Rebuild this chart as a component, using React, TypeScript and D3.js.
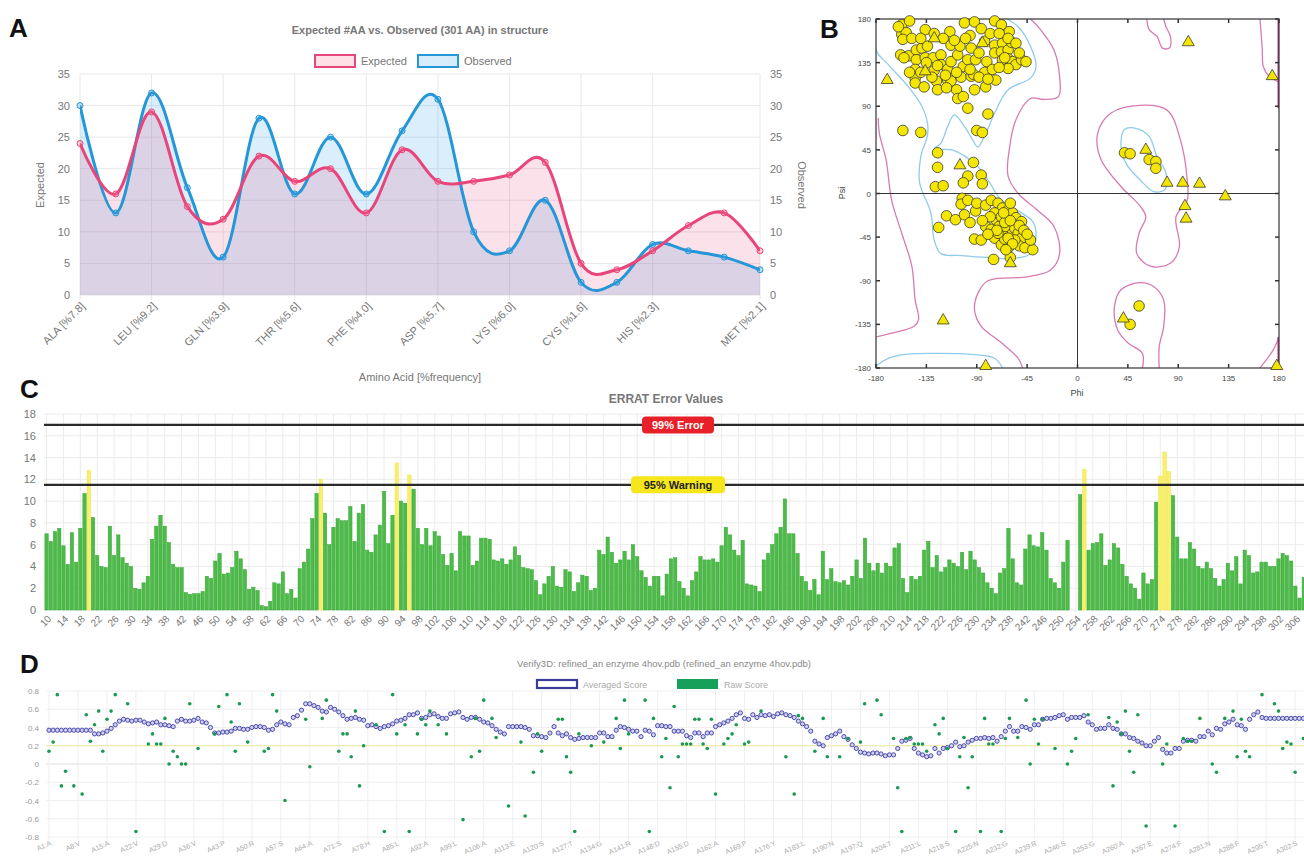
import React from 'react';
import * as d3 from 'd3';

// ---------------- Panel A data ----------------
const aaCategories = ['ALA [%7.8]', 'ARG', 'LEU [%9.2]', 'ASN', 'GLN [%3.9]', 'GLY', 'THR [%5.6]', 'VAL', 'PHE [%4.0]', 'SER', 'ASP [%5.7]', 'GLU', 'LYS [%6.0]', 'ILE', 'CYS [%1.6]', 'TRP', 'HIS [%2.3]', 'PRO', 'TYR', 'MET [%2.1]'];
const aaShownIdx = [0, 2, 4, 6, 8, 10, 12, 14, 16, 19];
const expectedAA = [24, 16, 29, 14, 12, 22, 18, 20, 13, 23, 18, 18, 19, 21, 5, 4, 7, 11, 13, 7];
const observedAA = [30, 13, 32, 17, 6, 28, 16, 25, 16, 26, 31, 10, 7, 15, 2, 2, 8, 7, 6, 4];
const aaTicks = [0, 5, 10, 15, 20, 25, 30, 35];

// ---------------- Panel B data ----------------
const ramaTicks = [-180, -135, -90, -45, 0, 45, 90, 135, 180];
const ramaResidues: [number, number][] = [
  [-157, 174], [-150, 178], [-157, 164], [-153, 166], [-156, 159], [-158, 143], [-151, 142], [-144, 148], [-144, 138], [-145, 128], [-145, 119], [-145, 114], [-137, 110], [-136, 169], [-139, 150], [-134, 152], [-136, 140], [-129, 140], [-128, 127], [-126, 116], [-125, 107], [-122, 143], [-122, 133], [-116, 128], [-116, 117], [-113, 116], [-117, 109], [-114, 167], [-113, 153], [-113, 136], [-107, 143], [-105, 152], [-102, 131], [-104, 120], [-108, 107], [-107, 98], [-102, 100], [-101, 176], [-98, 138], [-95, 121], [-93, 123], [-96, 163], [-92, 177], [-91, 138], [-92, 107], [-86, 170], [-83, 157], [-81, 136], [-83, 125], [-82, 110], [-76, 128], [-73, 117], [-74, 178], [-68, 174], [-74, 153], [-74, 145], [-67, 155], [-68, 146], [-62, 148], [-61, 167], [-59, 156], [-67, 138], [-62, 139], [-58, 136], [-55, 133], [-62, 129], [-50, 138], [-46, 136],
  [-160, 172], [-148, 160], [-140, 160], [-128, 165], [-120, 160], [-110, 158], [-100, 160], [-95, 150], [-88, 145], [-78, 165], [-70, 165], [-62, 160], [-55, 155], [-52, 145], [-140, 125], [-130, 120], [-118, 122], [-108, 125], [-96, 128], [-88, 120], [-80, 118], [-70, 130], [-65, 140], [-135, 135], [-125, 132], [-155, 140], [-150, 125],
  [-98, 88], [-80, 82], [-156, 65], [-140, 63], [-90, 65], [-85, 63], [-125, 42], [-125, 27], [-93, 32], [-98, 18], [-102, 11], [-86, 19], [-85, 10], [-127, 7], [-120, 8],
  [-103, -5], [-104, -11], [-117, -23], [-109, -27], [-101, -22], [-96, -30], [-124, -35], [-98, -7], [-91, -18], [-90, -10], [-82, -12], [-77, -7], [-71, -10], [-67, -15], [-62, -17], [-58, -20], [-55, -25], [-50, -29], [-82, -34], [-77, -37], [-73, -27], [-70, -34], [-66, -41], [-64, -34], [-58, -41], [-56, -36], [-53, -41], [-50, -46], [-74, -20], [-68, -24], [-74, -46], [-68, -53], [-61, -55], [-52, -54], [-47, -56], [-40, -58], [-42, -48], [-56, -48], [-65, -47], [-92, -47], [-86, -48], [-75, -68], [-60, -66], [-71, -41], [-78, -24],
  [-65, -30], [-60, -28], [-72, -38], [-62, -46], [-52, -33], [-48, -38], [-45, -42], [-58, -52], [-64, -58], [-80, -42], [-85, -28], [-66, -20], [-60, -10],
  [42, 42], [47, 41], [64, 35], [70, 33], [70, 26],
  [55, -116], [47, -135],
];
const ramaGlycine: [number, number][] = [
  [-170, 117], [-128, 160], [-85, 155], [-105, 29], [-136, 126], [-120, -131], [-60, -72], [-82, -178], [61, 45], [80, 11], [94, 11], [109, 10], [132, -3], [96, -13], [97, -26], [41, -129], [99, 156], [174, 121], [178, -178],
];
const pinkMain: [number, number][] = [[-42, 180], [-33, 169], [-21, 148], [-16, 121], [-17, 100], [-30, 97], [-42, 98], [-55, 76], [-61, 45], [-62, 18], [-53, 0], [-36, -17], [-21, -34], [-16, -62], [-24, -79], [-45, -86], [-80, -90], [-89, -103], [-92, -120], [-86, -137], [-68, -154], [-53, -170], [-49, -180]];
const pinkLeft: [number, number][] = [[-178, 78], [-177, 62], [-171, 35], [-166, -7], [-157, -41], [-148, -75], [-145, -110], [-142, -130], [-146, -137], [-166, -144], [-180, -148]];
const pinkTopLoop: [number, number][] = [[62, 180], [64, 169], [71, 162], [76, 150], [82, 150], [83, 162], [79, 172], [77, 180]];
const pinkBottomLoop: [number, number][] = [[58, -180], [58, -165], [45, -154], [36, -141], [33, -117], [39, -99], [56, -92], [68, -96], [77, -110], [77, -137], [73, -158], [73, -180]];
const pinkRightTop: [number, number][] = [[163, 180], [165, 150], [166, 131], [171, 121], [180, 115]];
const pinkRightBottom: [number, number][] = [[163, -180], [175, -161], [180, -148]];
const pinkAlphaL: [number, number][] = [[56, 91], [80, 86], [92, 55], [98, 14], [98, -7], [88, -24], [91, -55], [83, -72], [65, -75], [53, -62], [55, -41], [61, -24], [56, -13], [39, 7], [21, 35], [18, 62], [30, 83]];
const magentaEdges: [number, number][][] = [[[180, 180], [180, 88]], [[180, -148], [180, -180]]];
const blueMain: [number, number][] = [[-63, 180], [-53, 172], [-42, 152], [-37, 131], [-42, 119], [-62, 107], [-74, 83], [-82, 62], [-89, 48], [-95, 58], [-101, 69], [-110, 81], [-116, 69], [-122, 52], [-128, 46], [-112, 45], [-100, 38], [-89, 28], [-80, 14], [-68, -7], [-50, -20], [-40, -29], [-37, -41], [-42, -62], [-57, -67], [-80, -66], [-104, -64], [-122, -62], [-128, -48], [-131, -20], [-141, 11], [-140, 38], [-134, 60], [-134, 73], [-139, 90], [-151, 110], [-169, 133], [-180, 148], [-180, 180]];
const blueBottom: [number, number][] = [[-180, -178], [-169, -170], [-154, -166], [-125, -165], [-95, -166], [-74, -170], [-67, -180]];
const blueAlphaL: [number, number][] = [[42, 66], [53, 67], [64, 59], [71, 38], [79, 21], [78, 4], [68, 2], [56, 14], [45, 28], [39, 45]];

// ---------------- Panel C data ----------------
const erratFirstResidue = 10;
const erratValues = [
  7.0, 6.3, 7.2, 7.5, 5.9, 4.2, 7.1, 4.4, 7.5, 10.7,
  12.8, 8.5, 5.0, 4.0, 3.9, 7.7, 5.0, 6.9, 4.8, 4.3,
  4.0, 2.0, 1.9, 2.5, 3.1, 6.5, 7.7, 8.7, 7.7, 6.2,
  4.2, 3.9, 3.9, 1.6, 1.45, 1.5, 1.5, 1.7, 3.1, 2.9,
  4.5, 5.2, 3.3, 3.4, 3.9, 5.4, 4.7, 3.7, 1.9, 2.1,
  1.8, 0.4, 0.3, 0.8, 2.5, 2.4, 3.5, 1.5, 1.9, 1.1,
  3.8, 4.4, 5.6, 8.4, 10.7, 12.0, 8.9, 6.0, 7.6, 8.4,
  8.2, 8.2, 9.5, 6.3, 8.9, 9.7, 5.5, 5.3, 6.9, 7.8,
  10.9, 6.1, 8.7, 13.5, 10.0, 9.8, 12.4, 11.1, 7.5, 6.0,
  7.5, 5.9, 7.2, 6.8, 5.1, 4.1, 5.2, 3.6, 7.2, 6.8,
  6.8, 4.1, 4.5, 6.6, 6.6, 6.5, 4.6, 4.5, 4.7, 4.2,
  4.6, 5.8, 5.0, 3.9, 3.8, 3.7, 2.7, 1.4, 2.4, 3.1,
  4.0, 2.2, 2.1, 3.7, 3.5, 1.7, 2.5, 3.2, 3.1, 1.8,
  2.0, 5.5, 5.1, 6.7, 5.3, 4.3, 4.6, 5.4, 4.6, 6.0,
  4.9, 3.6, 3.0, 2.2, 3.1, 3.1, 1.3, 3.3, 4.7, 4.8,
  2.6, 2.0, 1.3, 2.7, 3.5, 4.9, 4.6, 4.6, 4.7, 4.4,
  5.9, 7.6, 6.9, 5.5, 5.0, 6.4, 2.4, 2.3, 2.2, 1.7,
  4.6, 5.2, 6.0, 7.0, 7.6, 10.2, 7.0, 7.0, 5.2, 3.1,
  2.6, 1.8, 2.8, 1.4, 5.4, 2.8, 3.8, 2.6, 2.5, 2.7,
  2.3, 3.1, 4.6, 2.9, 6.6, 4.3, 3.6, 4.3, 3.4, 4.3,
  4.0, 5.7, 6.1, 2.9, 1.6, 3.1, 2.8, 3.1, 5.5, 6.3,
  3.9, 5.0, 3.5, 3.9, 4.6, 4.3, 4.0, 5.3, 3.7, 5.4,
  4.6, 3.9, 3.4, 2.5, 2.0, 1.5, 3.4, 3.8, 7.5, 4.7,
  2.5, 2.3, 5.6, 6.9, 5.9, 5.8, 7.1, 5.5, 2.9, 2.5,
  2.0, 4.4, 6.4, 0, 0, 10.6, 12.9, 5.5, 6.1, 6.2,
  7.0, 4.1, 4.6, 6.1, 5.7, 4.2, 3.1, 2.4, 2.0, 1.0,
  3.4, 2.4, 2.8, 9.9, 12.3, 14.5, 12.7, 10.5, 6.7, 4.7,
  4.7, 6.2, 5.6, 4.0, 3.8, 4.4, 3.8, 2.9, 2.2, 2.8,
  4.3, 3.6, 4.9, 2.4, 5.5, 5.0, 3.4, 3.5, 4.4, 4.4,
  4.0, 4.0, 4.7, 5.2, 5.0, 4.5, 2.2, 1.1, 3.0,
];
const erratTicks = [0, 2, 4, 6, 8, 10, 12, 14, 16, 18];
const erratLimits = [{ value: 17, label: '99% Error', fill: '#e8202a', text: '#ffffff', w: 72 }, { value: 11.5, label: '95% Warning', fill: '#f6e61c', text: '#222222', w: 94 }];

// ---------------- Panel D data ----------------
const verifyAveraged = [
  0.37, 0.37, 0.37, 0.37, 0.37, 0.37, 0.37, 0.37, 0.37, 0.37, 0.37,
  0.33, 0.33, 0.34, 0.36, 0.39, 0.43, 0.47, 0.49, 0.48,
  0.47, 0.48, 0.48, 0.46, 0.44, 0.45, 0.46, 0.43, 0.43, 0.42,
  0.41, 0.47, 0.49, 0.47, 0.47, 0.48, 0.50, 0.46, 0.45, 0.40,
  0.34, 0.34, 0.35, 0.35, 0.36, 0.39, 0.39, 0.38, 0.38, 0.40,
  0.41, 0.41, 0.40, 0.37, 0.38, 0.43, 0.46, 0.44, 0.43, 0.51,
  0.53, 0.59, 0.66, 0.66, 0.64, 0.62, 0.58, 0.57, 0.62, 0.60,
  0.57, 0.53, 0.49, 0.50, 0.51, 0.49, 0.48, 0.42, 0.43, 0.41,
  0.39, 0.41, 0.42, 0.44, 0.47, 0.48, 0.50, 0.54, 0.54, 0.56,
  0.50, 0.51, 0.54, 0.55, 0.52, 0.50, 0.50, 0.55, 0.56, 0.57,
  0.51, 0.49, 0.51, 0.51, 0.49, 0.46, 0.45, 0.42, 0.38, 0.35,
  0.33, 0.41, 0.41, 0.41, 0.41, 0.40, 0.38, 0.31, 0.31, 0.30,
  0.29, 0.34, 0.41, 0.34, 0.31, 0.33, 0.29, 0.27, 0.28, 0.29,
  0.29, 0.29, 0.29, 0.34, 0.34, 0.30, 0.30, 0.37, 0.41, 0.40,
  0.38, 0.36, 0.36, 0.30, 0.37, 0.36, 0.32, 0.42, 0.42, 0.41,
  0.41, 0.36, 0.36, 0.36, 0.31, 0.29, 0.34, 0.34, 0.30, 0.34,
  0.34, 0.41, 0.43, 0.45, 0.47, 0.50, 0.54, 0.56, 0.50, 0.49,
  0.54, 0.51, 0.54, 0.53, 0.54, 0.52, 0.55, 0.56, 0.54, 0.53,
  0.51, 0.47, 0.44, 0.41, 0.36, 0.25, 0.22, 0.20, 0.29, 0.31,
  0.33, 0.36, 0.30, 0.27, 0.21, 0.17, 0.13, 0.12, 0.11, 0.12,
  0.12, 0.11, 0.09, 0.10, 0.10, 0.17, 0.25, 0.26, 0.28, 0.17,
  0.12, 0.10, 0.08, 0.09, 0.17, 0.12, 0.17, 0.18, 0.20, 0.24,
  0.19, 0.20, 0.24, 0.26, 0.28, 0.28, 0.29, 0.28, 0.29, 0.25,
  0.30, 0.36, 0.41, 0.36, 0.36, 0.41, 0.40, 0.38, 0.43, 0.43,
  0.49, 0.50, 0.50, 0.51, 0.53, 0.54, 0.49, 0.51, 0.51, 0.51,
  0.53, 0.46, 0.43, 0.38, 0.39, 0.39, 0.43, 0.39, 0.38, 0.33,
  0.33, 0.29, 0.28, 0.25, 0.23, 0.20, 0.20, 0.25, 0.29, 0.16,
  0.12, 0.12, 0.17, 0.17, 0.25, 0.26, 0.26, 0.25, 0.30, 0.30,
  0.36, 0.32, 0.39, 0.38, 0.44, 0.46, 0.49, 0.43, 0.42, 0.38,
  0.49, 0.54, 0.57, 0.51, 0.50, 0.50, 0.50, 0.50, 0.50, 0.50,
  0.50, 0.50, 0.50, 0.50, 0.50, 0.50,
];
const verifyRaw: [number, number][] = [
  [1, 0.14], [2, 0.24], [3, 0.76], [4, -0.24], [5, -0.08], [7, -0.24], [9, -0.33], [10, 0.54], [11, 0.25], [12, 0.43], [13, 0.58], [14, 0.14], [15, 0.49], [16, 0.58], [17, 0.76], [20, 0.66], [22, -0.74], [25, 0.22], [26, 0.33], [27, 0.22], [28, 0.22], [29, 0.50], [30, 0.0], [31, 0.14], [32, 0.08], [33, 0.0], [34, 0.0], [35, 0.66], [37, 0.17], [41, 0.33], [42, 0.63], [44, 0.76], [45, 0.46], [46, 0.14], [47, 0.66], [49, 0.24], [53, 0.14], [54, 0.17], [55, 0.76], [56, 0.58], [58, -0.40], [63, 0.49], [64, -0.03], [67, 0.50], [68, 0.70], [71, 0.14], [72, 0.33], [73, 0.33], [74, 0.08], [75, 0.58], [76, -0.24], [77, 0.20], [80, 0.43], [82, -0.74], [84, 0.76], [85, 0.33], [87, 0.43], [88, -0.74], [90, 0.33], [91, 0.49], [92, 0.43], [93, 0.58], [95, 0.43], [97, 0.33],
  [101, -0.61], [103, 0.08], [104, 0.50], [105, 0.14], [106, 0.70], [108, 0.50], [109, 0.29], [112, -0.46], [115, 0.24], [116, -0.57], [118, -0.09], [119, 0.33], [120, 0.14], [124, 0.49], [125, 0.49], [126, 0.08], [127, -0.09], [128, -0.74], [129, 0.33], [132, 0.20], [135, 0.24], [138, 0.50], [139, 0.17], [140, 0.70], [141, 0.33], [145, 0.70], [146, -0.74], [147, 0.50], [149, 0.08], [150, 0.28], [151, -0.26], [152, 0.63], [153, 0.08], [154, 0.22], [155, 0.22], [156, 0.22], [157, 0.49], [158, 0.49], [159, 0.22], [160, 0.17], [161, 0.49], [162, -0.33], [164, 0.22], [165, 0.28], [166, 0.33], [167, 0.43], [169, 0.22], [170, 0.24], [173, 0.58], [179, 0.08], [181, -0.33], [182, 0.53], [183, 0.50], [186, 0.14], [188, 0.50], [189, 0.08], [192, 0.08], [194, 0.28], [197, 0.24], [198, 0.66],
  [201, 0.70], [202, 0.54], [205, 0.28], [206, -0.26], [207, -0.74], [208, 0.28], [209, 0.29], [210, 0.22], [211, 0.22], [212, 0.22], [213, 0.14], [215, 0.43], [216, 0.33], [217, 0.50], [218, 0.17], [220, -0.74], [221, 0.08], [222, 0.29], [223, -0.26], [224, 0.08], [226, -0.74], [227, 0.50], [228, 0.22], [229, 0.22], [231, -0.74], [232, 0.28], [233, 0.50], [235, 0.29], [237, 0.70], [238, 0.0], [239, 0.49], [240, 0.22], [241, 0.49], [244, 0.17], [247, 0.0], [248, 0.14], [249, 0.28], [252, 0.54], [257, 0.51], [258, -0.24], [259, 0.46], [260, 0.33], [261, 0.58], [262, 0.14], [263, -0.09], [264, 0.54], [266, -0.68], [270, 0.0], [271, 0.22], [273, -0.68], [275, 0.28], [276, 0.25], [277, 0.25], [279, 0.50], [282, 0.0], [283, -0.09], [285, 0.50], [287, 0.58], [288, 0.08], [289, 0.49], [290, 0.14], [291, 0.08], [294, 0.76], [297, 0.66], [298, 0.58], [299, 0.17], [300, 0.24], [301, 0.22], [302, -0.09], [304, 0.28],
];
const verifyTickLabels = ['A1:A', 'A8:V', 'A15:A', 'A22:V', 'A29:D', 'A36:V', 'A43:P', 'A50:R', 'A57:S', 'A64:A', 'A71:S', 'A78:H', 'A85:L', 'A92:A', 'A99:L', 'A106:A', 'A113:E', 'A120:S', 'A127:T', 'A134:G', 'A141:R', 'A148:D', 'A155:D', 'A162:A', 'A169:P', 'A176:Y', 'A183:L', 'A190:N', 'A197:Q', 'A204:T', 'A211:L', 'A218:S', 'A225:N', 'A232:G', 'A239:R', 'A246:S', 'A253:G', 'A260:A', 'A267:E', 'A274:F', 'A281:N', 'A288:F', 'A295:T', 'A302:S'];
const verifyYTicks = [0.8, 0.6, 0.4, 0.2, 0, -0.2, -0.4, -0.6, -0.8];

const FONT = 'Liberation Sans, Arial, Helvetica, sans-serif';
const PINK = '#e8457a';
const BLUE = '#2596d6';

function PanelA() {
  const x = d3.scalePoint<number>().domain(d3.range(aaCategories.length)).range([80, 760]);
  const y = d3.scaleLinear().domain([0, 35]).range([295, 74]);
  const curve = d3.curveCardinal.tension(-0.05);
  const area = d3.area<number>().x((_, i) => x(i)!).y0(y(0)).y1((d) => y(d)).curve(curve);
  const line = d3.line<number>().x((_, i) => x(i)!).y((d) => y(d)).curve(curve);
  return (
    <g fontFamily={FONT}>
      <defs>
        <clipPath id="clipA"><rect x={80} y={60} width={680} height={235} /></clipPath>
      </defs>
      <text x={420} y={34} textAnchor="middle" fontSize={11} fontWeight="bold" fill="#777">Expected #AA vs. Observed (301 AA) in structure</text>
      <rect x={315} y={55} width={40} height={12} fill="rgba(255,99,132,0.2)" stroke={PINK} strokeWidth={2} />
      <text x={361} y={64.5} fontSize={11} fill="#777">Expected</text>
      <rect x={418} y={55} width={40} height={12} fill="rgba(54,162,235,0.2)" stroke={BLUE} strokeWidth={2} />
      <text x={464} y={64.5} fontSize={11} fill="#777">Observed</text>
      {aaTicks.map((t) => (
        <g key={t}>
          <line x1={80} x2={760} y1={y(t)} y2={y(t)} stroke="#e8e8e8" />
          <text x={70} y={y(t) + 4} textAnchor="end" fontSize={11} fill="#777">{t}</text>
          <text x={770} y={y(t) + 4} textAnchor="start" fontSize={11} fill="#777">{t}</text>
        </g>
      ))}
      {aaShownIdx.map((i) => (
        <line key={i} x1={x(i)} x2={x(i)} y1={74} y2={300} stroke="#e8e8e8" />
      ))}
      <g clipPath="url(#clipA)">
        <path d={area(observedAA)!} fill="rgba(54,162,235,0.18)" />
        <path d={area(expectedAA)!} fill="rgba(232,69,122,0.16)" />
        <path d={line(observedAA)!} fill="none" stroke={BLUE} strokeWidth={3} />
        <path d={line(expectedAA)!} fill="none" stroke={PINK} strokeWidth={3} />
      </g>
      {observedAA.map((v, i) => (
        <circle key={'o' + i} cx={x(i)} cy={y(v)} r={3} fill="rgba(54,162,235,0.3)" stroke={BLUE} strokeWidth={1} />
      ))}
      {expectedAA.map((v, i) => (
        <circle key={'e' + i} cx={x(i)} cy={y(v)} r={3} fill="rgba(255,99,132,0.3)" stroke={PINK} strokeWidth={1} />
      ))}
      {aaShownIdx.map((i) => (
        <text key={i} transform={`translate(${x(i)! + 3},${304}) rotate(-45)`} textAnchor="end" fontSize={11} fill="#777" dy="0.35em">{aaCategories[i]}</text>
      ))}
      <text transform="translate(44,185) rotate(-90)" textAnchor="middle" fontSize={11} fill="#777">Expected</text>
      <text transform="translate(798,185) rotate(90)" textAnchor="middle" fontSize={11} fill="#777">Observed</text>
      <text x={420} y={381} textAnchor="middle" fontSize={11} fill="#777">Amino Acid [%frequency]</text>
    </g>
  );
}

function PanelB() {
  const x = d3.scaleLinear().domain([-180, 180]).range([876, 1279]);
  const y = d3.scaleLinear().domain([-180, 180]).range([368, 19]);
  const open = d3.line<[number, number]>().x((d) => x(d[0])).y((d) => y(d[1])).curve(d3.curveCatmullRom.alpha(0.5));
  const closed = d3.line<[number, number]>().x((d) => x(d[0])).y((d) => y(d[1])).curve(d3.curveCatmullRomClosed.alpha(0.5));
  const tri = d3.symbol().type(d3.symbolTriangle).size(62)();
  const pinkOpen = [pinkMain, pinkLeft, pinkTopLoop, pinkBottomLoop, pinkRightTop, pinkRightBottom];
  return (
    <g fontFamily={FONT}>
      <defs>
        <clipPath id="clipB"><rect x={876} y={19} width={403} height={349} /></clipPath>
      </defs>
      <g clipPath="url(#clipB)" fill="none" strokeWidth={1.3}>
        {pinkOpen.map((p, i) => <path key={'p' + i} d={open(p)!} stroke="#d77bb0" />)}
        <path d={closed(pinkAlphaL)!} stroke="#d77bb0" />
        {magentaEdges.map((p, i) => <path key={'m' + i} d={open(p)!} stroke="#c0308a" strokeWidth={3} />)}
        <path d={open(blueMain)!} stroke="#8fcbea" />
        <path d={open(blueBottom)!} stroke="#8fcbea" />
        <path d={closed(blueAlphaL)!} stroke="#8fcbea" />
      </g>
      <line x1={x(0)} x2={x(0)} y1={19} y2={368} stroke="#333" strokeWidth={1} />
      <line x1={876} x2={1279} y1={y(0)} y2={y(0)} stroke="#333" strokeWidth={1} />
      <rect x={876} y={19} width={403} height={349} fill="none" stroke="#333" strokeWidth={1.2} />
      {ramaTicks.map((t) => (
        <g key={t}>
          <line x1={x(t)} x2={x(t)} y1={19} y2={23} stroke="#333" strokeWidth={1.5} />
          <line x1={x(t)} x2={x(t)} y1={364} y2={368} stroke="#333" strokeWidth={1.5} />
          <line x1={876} x2={880} y1={y(t)} y2={y(t)} stroke="#333" strokeWidth={1.5} />
          <line x1={1275} x2={1279} y1={y(t)} y2={y(t)} stroke="#333" strokeWidth={1.5} />
          <text x={x(t)} y={381} textAnchor="middle" fontSize={8} fill="#444">{t}</text>
          <text x={871} y={y(t) + 3} textAnchor="end" fontSize={8} fill="#444">{t}</text>
        </g>
      ))}
      {ramaResidues.map((d, i) => (
        <circle key={'r' + i} cx={x(d[0])} cy={y(d[1])} r={5.3} fill="#f4e600" stroke="#3a3a2a" strokeWidth={0.8} />
      ))}
      {ramaGlycine.map((d, i) => (
        <path key={'g' + i} d={tri!} transform={`translate(${x(d[0])},${y(d[1])})`} fill="#f4e600" stroke="#3a3a2a" strokeWidth={0.8} />
      ))}
      <text x={1077} y={396} textAnchor="middle" fontSize={9} fill="#444">Phi</text>
      <text transform="translate(845,193) rotate(-90)" textAnchor="middle" fontSize={9} fill="#444">Psi</text>
    </g>
  );
}

function PanelC() {
  const residues = erratValues.map((_, i) => erratFirstResidue + i);
  const step = 4.216;
  const x = d3.scaleBand<number>().domain(residues).range([47 - step / 2, 47 - step / 2 + step * residues.length]).paddingInner(0.2);
  const y = d3.scaleLinear().domain([0, 18]).range([610, 414]);
  const labelRes = d3.range(10, 307, 4);
  return (
    <g fontFamily={FONT}>
      <text x={666} y={403} textAnchor="middle" fontSize={12} fontWeight="bold" fill="#777">ERRAT Error Values</text>
      {erratTicks.map((t) => (
        <g key={t}>
          <line x1={44} x2={1304} y1={y(t)} y2={y(t)} stroke="#ececec" />
          <text x={36} y={y(t) + 4} textAnchor="end" fontSize={11} fill="#777">{t}</text>
        </g>
      ))}
      {labelRes.map((r) => {
        const cx = x(r)! + x.bandwidth() / 2;
        return (
          <g key={r}>
            <line x1={cx} x2={cx} y1={414} y2={612} stroke="#ececec" />
            <text transform={`translate(${cx + 3},${617}) rotate(-45)`} textAnchor="end" fontSize={10} fill="#777" dy="0.35em">{r}</text>
          </g>
        );
      })}
      {erratValues.map((v, i) => {
        const r = residues[i];
        const warn = v > 11.5;
        return (
          <rect key={r} x={x(r)} y={y(v)} width={x.bandwidth()} height={y(0) - y(v)} fill={warn ? '#f8f06a' : '#4dbb47'} stroke={warn ? '#f2e23c' : '#36a536'} strokeWidth={0.5} />
        );
      })}
      {erratLimits.map((l) => (
        <g key={l.label}>
          <line x1={44} x2={1304} y1={y(l.value)} y2={y(l.value)} stroke="#2a2a2a" strokeWidth={2.2} />
          <rect x={678 - l.w / 2} y={y(l.value) - 8.5} width={l.w} height={17} rx={4} fill={l.fill} />
          <text x={678} y={y(l.value) + 4} textAnchor="middle" fontSize={11} fontWeight="bold" fill={l.text}>{l.label}</text>
        </g>
      ))}
    </g>
  );
}

function PanelD() {
  const x = d3.scaleLinear().domain([1, 306]).range([49, 49 + 305 * 4.14]);
  const y = d3.scaleLinear().domain([-0.8, 0.8]).range([837, 691]);
  return (
    <g fontFamily={FONT}>
      <defs>
        <clipPath id="clipD"><rect x={40} y={680} width={1264} height={170} /></clipPath>
      </defs>
      <text x={664} y={667} textAnchor="middle" fontSize={9.5} fill="#888">Verify3D: refined_an enzyme 4hov.pdb (refined_an enzyme 4hov.pdb)</text>
      <rect x={537} y={680} width={40} height={8} fill="#fff" stroke="#3b3b9a" strokeWidth={2.2} />
      <text x={583} y={687.5} fontSize={9} fill="#aaa">Averaged Score</text>
      <rect x={677} y={679} width={41} height={10} fill="#17a05a" />
      <text x={724} y={687.5} fontSize={9} fill="#aaa">Raw Score</text>
      {verifyYTicks.map((t) => (
        <g key={t}>
          <line x1={46} x2={1304} y1={y(t)} y2={y(t)} stroke={t === 0 ? '#dddddd' : '#efefef'} />
          <text x={39} y={y(t) + 3} textAnchor="end" fontSize={8} fill="#999">{t}</text>
        </g>
      ))}
      {verifyTickLabels.map((lab) => {
        const r = parseInt(lab.slice(1), 10);
        return (
          <g key={lab}>
            <line x1={x(r)} x2={x(r)} y1={691} y2={840} stroke="#efefef" />
            <text transform={`translate(${x(r) + 2},${843}) rotate(-24)`} textAnchor="end" fontSize={7} fill="#aaa" dy="0.3em">{lab}</text>
          </g>
        );
      })}
      <line x1={46} x2={1304} y1={y(0.2)} y2={y(0.2)} stroke="#efe8a0" strokeWidth={1} />
      <g clipPath="url(#clipD)">
        {verifyAveraged.map((v, i) => (
          <circle key={'a' + i} cx={x(i + 1)} cy={y(v)} r={2.1} fill="#d0d0f2" stroke="#3c3ca2" strokeWidth={0.9} />
        ))}
        {verifyRaw.map((d) => (
          <circle key={'w' + d[0]} cx={x(d[0])} cy={y(d[1])} r={1.8} fill="#1a9a50" />
        ))}
      </g>
    </g>
  );
}

export default function App() {
  return (
    <svg width={1304} height={856} viewBox="0 0 1304 856" style={{ position: 'absolute', left: 0, top: 0, background: '#fff' }}>
      <rect x={0} y={0} width={1304} height={856} fill="#fff" />
      <PanelA />
      <PanelB />
      <PanelC />
      <PanelD />
      <g fontFamily={FONT} fontWeight="bold" fontSize={26} fill="#111">
        <text x={9} y={37}>A</text>
        <text x={820} y={38}>B</text>
        <text x={20} y={398}>C</text>
        <text x={20} y={673}>D</text>
      </g>
    </svg>
  );
}
